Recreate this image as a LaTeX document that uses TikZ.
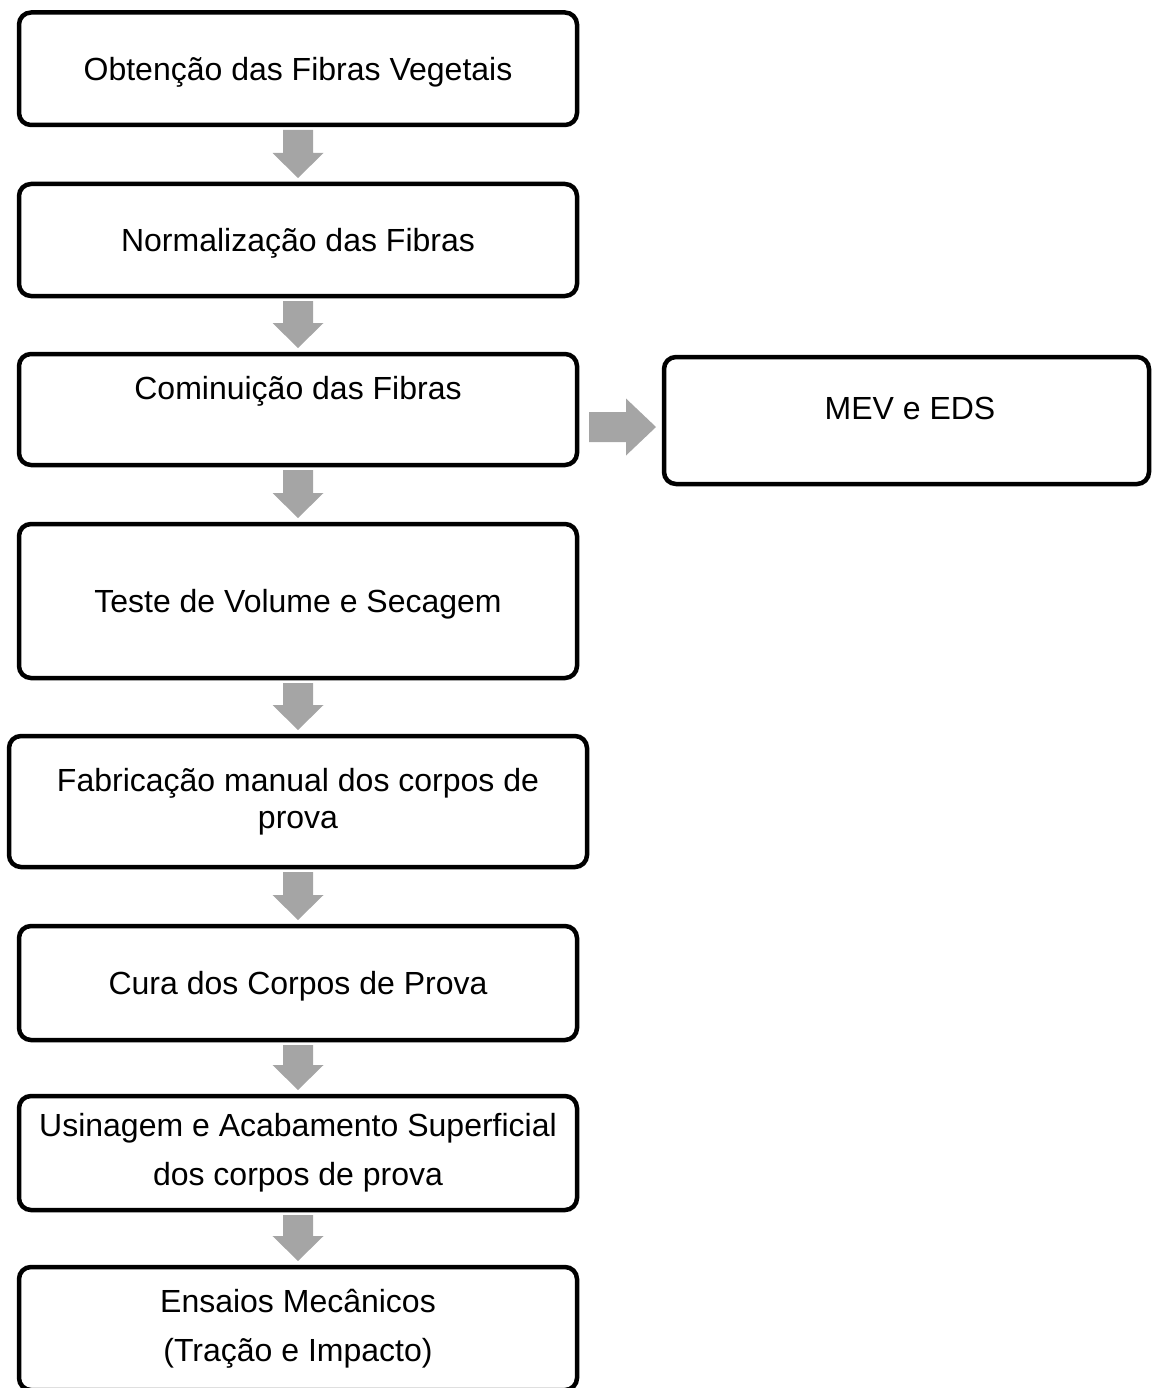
\documentclass[tikz,border=0pt]{standalone}
\usepackage{fontspec}
\setmainfont{Liberation Sans}
\usetikzlibrary{calc}
\definecolor{arrgray}{HTML}{A5A5A5}
\tikzset{
  box/.style={draw=black, line width=4.5pt, rounded corners=12pt, inner sep=0pt, outer sep=0pt,
    align=center, font=\fontsize{32}{37}\selectfont},
  one/.style={text height=30.4pt, text depth=7.4pt},
  wide/.style={font=\fontsize{32}{49}\selectfont},
  txt/.style={inner sep=0pt, outer sep=0pt, align=center, font=\fontsize{32}{37}\selectfont,
    text height=30.4pt, text depth=7.4pt},
  flowarrow/.style={fill=arrgray, draw=none},
}
\newcommand\vflow[2]{%
  \fill[flowarrow] let \p1=(#1.south), \p2=(#2.north) in
    (\x1-15pt,\y1-5pt) -- (\x1+15pt,\y1-5pt) -- (\x1+15pt,\y2+31pt) -- (\x1+25.5pt,\y2+31pt)
    -- (\x1,\y2+6pt) -- (\x1-25.5pt,\y2+31pt) -- (\x1-15pt,\y2+31pt) -- cycle;}
\begin{document}
\begin{tikzpicture}[x=1pt,y=-1pt]
\clip (0,0) rectangle (1152,1388);
\node[box, one, minimum width=558pt, minimum height=112.5pt] (b1) at (298,68.75) {Obtenção das Fibras Vegetais};
\node[box, one, minimum width=558pt, minimum height=112pt] (b2) at (298,240) {Normalização das Fibras};
\node[box, minimum width=558pt, minimum height=111pt] (b3) at (298,409.5) {};
\node[txt] (t3) at (298,388) {Cominuição das Fibras};
\node[box, minimum width=485pt, minimum height=127pt] (mev) at (906.5,420.5) {};
\node[txt] (tm) at (910,408) {MEV e EDS};
\node[box, one, minimum width=558pt, minimum height=154pt] (b4) at (298,601) {Teste de Volume e Secagem};
\node[box, minimum width=578pt, minimum height=131pt] (b5) at (298,801.5) {Fabricação manual dos corpos de\\prova};
\node[box, one, minimum width=558pt, minimum height=114pt] (b6) at (298,983) {Cura dos Corpos de Prova};
\node[box, wide, minimum width=558pt, minimum height=114pt] (b7) at (298,1153) {Usinagem e Acabamento Superficial\\dos corpos de prova};
\node[box, wide, minimum width=558pt, minimum height=123pt] (b8) at (298,1328.5) {Ensaios Mecânicos\\(Tração e Impacto)};
\vflow{b1}{b2}
\vflow{b2}{b3}
\vflow{b3}{b4}
\vflow{b4}{b5}
\vflow{b5}{b6}
\vflow{b6}{b7}
\vflow{b7}{b8}
\fill[flowarrow] let \p1=(b3.east), \p2=(mev.west) in
  (\x1+12pt,\y1-2.5pt) -- (\x2-38pt,\y1-2.5pt) -- (\x2-38pt,\y1+11pt) -- (\x2-8pt,\y1-17.5pt)
  -- (\x2-38pt,\y1-46pt) -- (\x2-38pt,\y1-32.5pt) -- (\x1+12pt,\y1-32.5pt) -- cycle;
\end{tikzpicture}
\end{document}
